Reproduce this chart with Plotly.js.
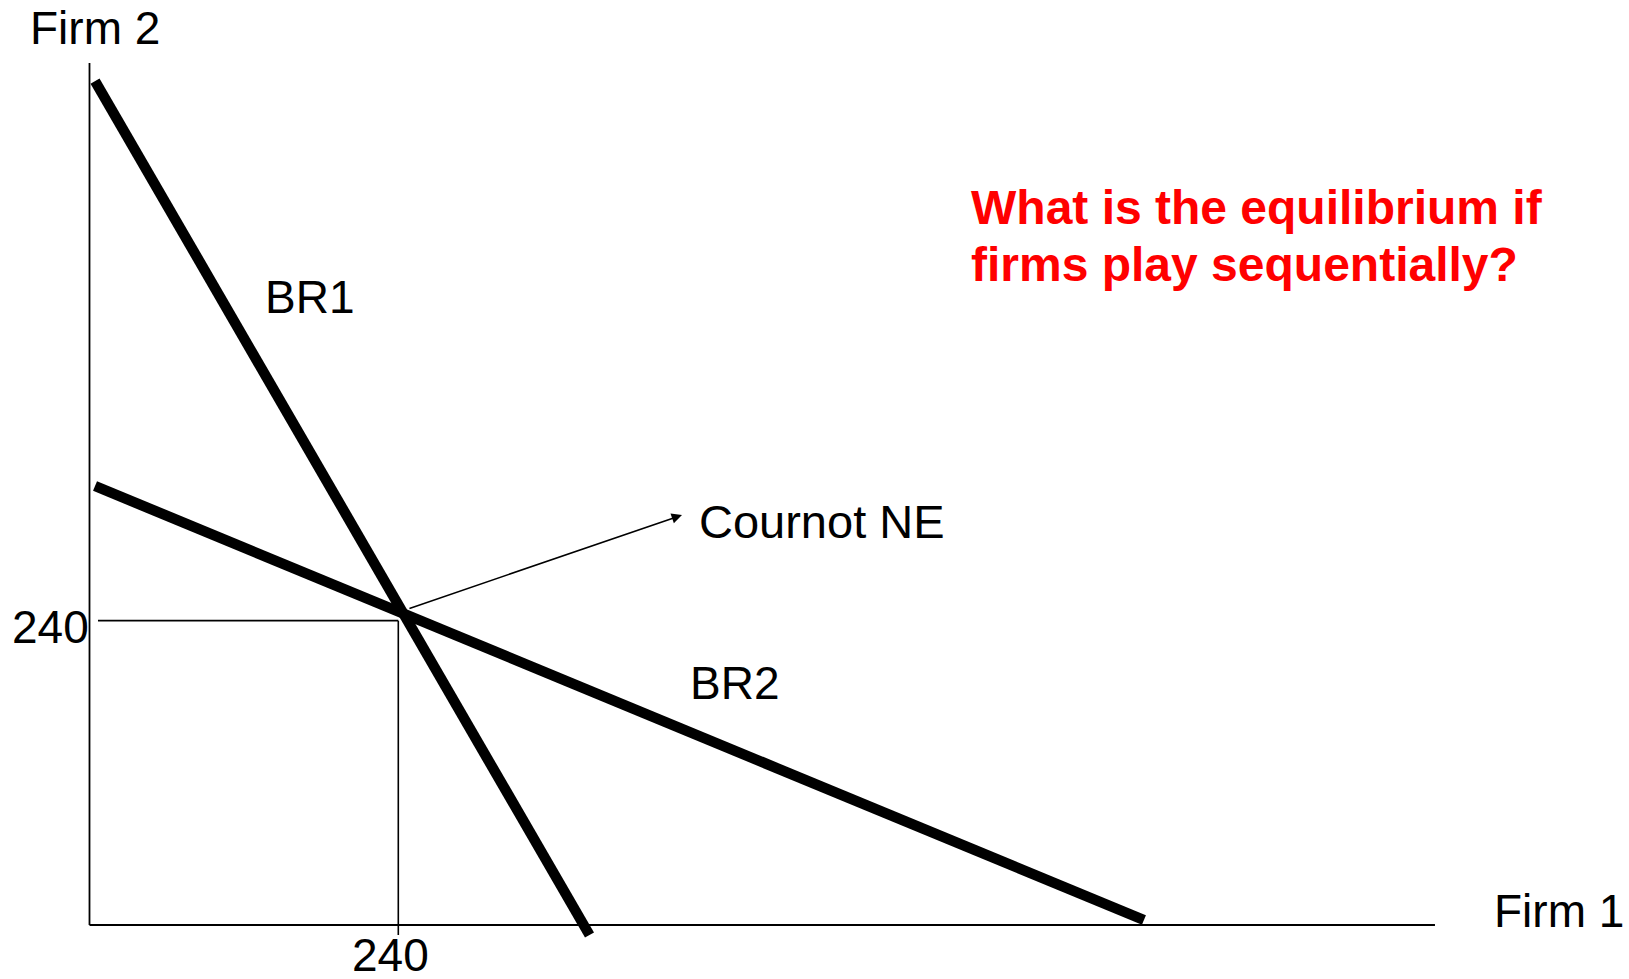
<!DOCTYPE html>
<html>
<head>
<meta charset="utf-8">
<script src="https://cdn.plot.ly/plotly-3.0.1.min.js"></script>
<style>
  html, body { margin: 0; padding: 0; background: #ffffff; }
  #chart { width: 1629px; height: 979px; }
</style>
</head>
<body>
<div id="chart"></div>
<script>
// ---- data (in chart units) ----
const nashQ = 240;                       // Cournot NE quantity for both firms
const br1X = [4.3, 388.6];               // BR1 end points (Firm 1 quantity)
const br1Y = [665.6, -7.9];              // BR1 end points (Firm 2 quantity)
const br2X = [4.3, 819.5];               // BR2 end points
const br2Y = [346.2, 3.9];
const xAxisX = [0, 1045.7];
const xAxisY = [0, 0];
const yAxisX = [0, 0];
const yAxisY = [0, 679.8];
const guideHX = [6.6, nashQ];
const guideHY = [nashQ, nashQ];
const guideVX = [nashQ, nashQ];
const guideVY = [nashQ, -7.9];
const arrowFrom = [247.5, 249.2];
const arrowTo = [460.5, 323.3];
const tickLabels = ['240', '240'];
const axisNames = ['Firm 1', 'Firm 2'];
const curveNames = ['BR1', 'BR2'];
const neLabel = 'Cournot NE';
const questionLines = ['What is the equilibrium if', 'firms play sequentially?'];

const W = 1629, H = 979;
const FONT = 'Arial, "Liberation Sans", Helvetica, sans-serif';

function line(x, y, width) {
  return { x: x, y: y, type: 'scatter', mode: 'lines',
           line: { color: '#000000', width: width }, hoverinfo: 'skip', showlegend: false };
}

const traces = [
  line(xAxisX, xAxisY, 1.8),
  line(yAxisX, yAxisY, 1.8),
  line(guideHX, guideHY, 1.6),
  line(guideVX, guideVY, 1.6),
  line(br1X, br1Y, 10.4),
  line(br2X, br2Y, 10.4)
];

function pap(px, py) { return { x: px / W, y: 1 - py / H }; }
function txt(text, px, py, size, extra) {
  const p = pap(px, py);
  return Object.assign({ text: text, xref: 'paper', yref: 'paper', x: p.x, y: p.y,
    xanchor: 'center', yanchor: 'middle', showarrow: false,
    font: { family: FONT, size: size, color: '#000000' } }, extra || {});
}

const red = { family: FONT, size: 48, color: '#ff0000', weight: 'bold' };

const annotations = [
  txt(axisNames[1], 95, 28, 46),
  txt(axisNames[0], 1558.5, 911, 46),
  txt(tickLabels[1], 50, 627, 46),
  txt(tickLabels[0], 390.5, 955, 46),
  txt(curveNames[0], 309, 297, 46),
  txt(curveNames[1], 734, 683, 46),
  txt(neLabel, 822, 521, 47),
  txt(questionLines[0], 969, 207, 48, { xanchor: 'left', font: red }),
  txt(questionLines[1], 969, 264, 48, { xanchor: 'left', font: red }),
  { x: arrowTo[0], y: arrowTo[1], ax: arrowFrom[0], ay: arrowFrom[1],
    xref: 'x', yref: 'y', axref: 'x', ayref: 'y', text: '', showarrow: true,
    arrowhead: 2, arrowsize: 1.3, arrowwidth: 1.6, arrowcolor: '#000000', standoff: 0, startstandoff: 0 }
];

const layout = {
  width: W, height: H,
  margin: { l: 0, r: 0, t: 0, b: 0, pad: 0 },
  paper_bgcolor: '#ffffff', plot_bgcolor: '#ffffff',
  showlegend: false,
  xaxis: { range: [-69.56, 1196.5], visible: false, fixedrange: true },
  yaxis: { range: [-42.6, 729.5], visible: false, fixedrange: true },
  annotations: annotations
};

Plotly.newPlot('chart', traces, layout, { displayModeBar: false, staticPlot: true });
</script>
</body>
</html>
